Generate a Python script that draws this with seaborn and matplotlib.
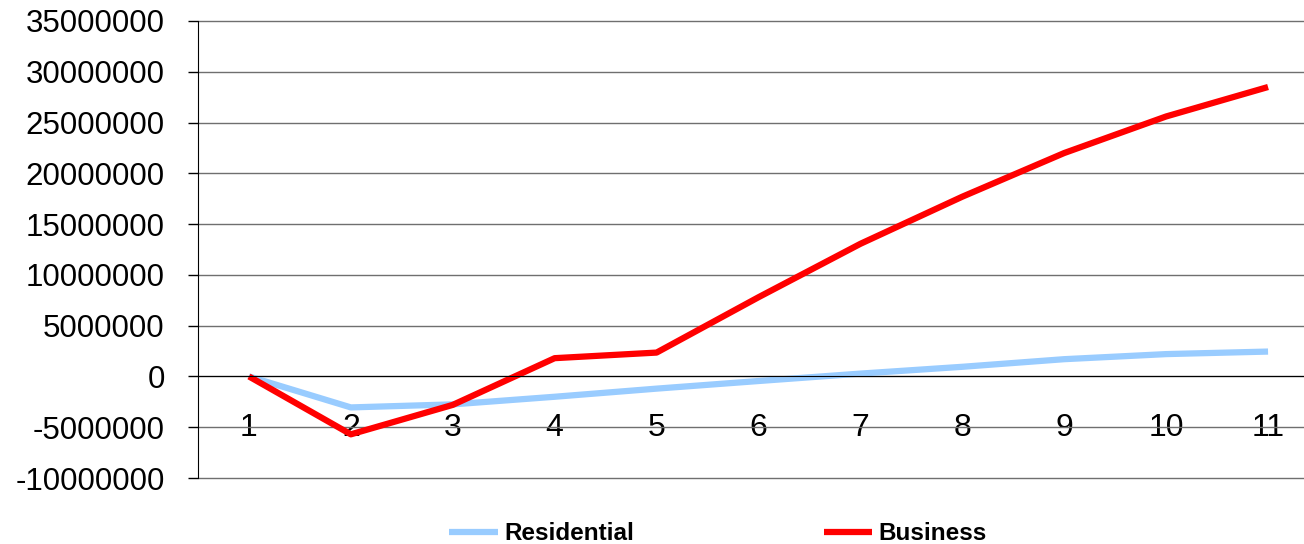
import numpy as np
import pandas as pd
import matplotlib.pyplot as plt
import seaborn as sns
from matplotlib.ticker import FixedLocator, FuncFormatter, MultipleLocator

periods = list(range(1, 12))
residential = [0, -3050000, -2750000, -2000000, -1200000, -450000,
               280000, 950000, 1700000, 2200000, 2450000]
business = [0, -5700000, -2800000, 1800000, 2350000, 7800000,
            13060000, 17700000, 22000000, 25600000, 28500000]
series_names = ['Residential', 'Business']
colors = ['#99CCFF', '#FF0000']

df = pd.DataFrame({
    'period': periods * 2,
    'value': residential + business,
    'series': ['Residential'] * len(periods) + ['Business'] * len(periods),
})

sns.set_style('white')
plt.rcParams['font.family'] = ['Liberation Sans', 'DejaVu Sans']
plt.rcParams['text.color'] = 'black'
plt.rcParams['xtick.color'] = 'black'
plt.rcParams['ytick.color'] = 'black'
plt.rcParams['lines.solid_capstyle'] = 'butt'

fig = plt.figure(figsize=(13.04, 5.44), dpi=100)
ax = fig.add_axes([198 / 1304, 1 - 478 / 544, 1121 / 1304, 457 / 544])

sns.lineplot(data=df, x='period', y='value', hue='series', hue_order=series_names,
             palette=colors, linewidth=4.5, ax=ax)
for line in ax.get_lines():
    line.set_solid_capstyle('butt')

ax.set_xlim(0.5, 11.5)
ax.set_ylim(-10000000, 35000000)
ax.yaxis.set_major_locator(MultipleLocator(5000000))
ax.yaxis.set_major_formatter(FuncFormatter(lambda v, p: f'{int(v)}'))
ax.yaxis.grid(True, color='#6f6f6f', linewidth=1)
for gl in ax.yaxis.get_gridlines():
    gl.set_clip_on(False)
ax.set_axisbelow(True)

ax.xaxis.set_major_locator(FixedLocator(periods))
ax.xaxis.set_minor_locator(FixedLocator([p + 0.5 for p in range(0, 12)]))
ax.tick_params(axis='x', which='major', length=0, pad=26, labelsize=23)
ax.tick_params(axis='x', which='minor', length=6, width=1, color='black', direction='out')
ax.tick_params(axis='y', length=7, width=1, color='black', pad=17, labelsize=22.5, left=True)

ax.spines['bottom'].set_position(('data', 0))
ax.spines['bottom'].set_color('black')
ax.spines['left'].set_color('black')
ax.spines['top'].set_visible(False)
ax.spines['right'].set_visible(False)
ax.set_xlabel('')
ax.set_ylabel('')

handles, labels = ax.get_legend_handles_labels()
for h in handles:
    h.set_solid_capstyle('butt')
ax.legend(handles, labels, loc='center', bbox_to_anchor=(718 / 1304, 1 - 534 / 544),
          bbox_transform=fig.transFigure, ncol=2, frameon=False,
          prop={'weight': 'bold', 'size': 17.5}, handlelength=2.0, handletextpad=0.25,
          columnspacing=7.8)

fig.savefig('out.png', dpi=100)
